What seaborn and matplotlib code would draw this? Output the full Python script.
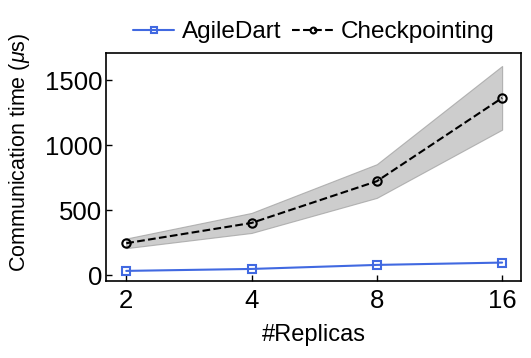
import matplotlib
matplotlib.use("Agg")
import matplotlib.pyplot as plt
import seaborn as sns
import pandas as pd

replicas = ["2", "4", "8", "16"]
agiledart = [33, 48, 79, 97]
checkpointing = [246, 402, 723, 1364]
ckpt_low = [208, 325, 595, 1120]
ckpt_high = [282, 479, 854, 1610]

sns.set_style("ticks")
plt.rcParams['font.family'] = ['Liberation Sans', 'DejaVu Sans']
plt.rcParams['mathtext.fontset'] = 'custom'
plt.rcParams['mathtext.it'] = 'Liberation Sans:italic'
plt.rcParams['text.color'] = 'black'
plt.rcParams['axes.labelcolor'] = 'black'
plt.rcParams['xtick.color'] = 'black'
plt.rcParams['ytick.color'] = 'black'

df = pd.DataFrame({
    "replicas": replicas * 2,
    "time": agiledart + checkpointing,
    "method": ["AgileDart"] * 4 + ["Checkpointing"] * 4,
})

fig = plt.figure(figsize=(5.31, 3.58), dpi=100)
ax = fig.add_axes([0.2, 0.215, 0.781, 0.637])

ax.fill_between(replicas, ckpt_low, ckpt_high, color="#bdbdbd", alpha=0.75,
                edgecolor="#a0a0a0", linewidth=0.8, zorder=1)

sns.lineplot(data=df[df.method == "AgileDart"], x="replicas", y="time", ax=ax,
             color="#4169e1", marker="s", markersize=5.5, markerfacecolor="none",
             markeredgecolor="#4169e1", markeredgewidth=1.5, linewidth=1.5,
             label="AgileDart", zorder=3)
sns.lineplot(data=df[df.method == "Checkpointing"], x="replicas", y="time", ax=ax,
             color="black", marker="o", markersize=6, markerfacecolor="none",
             markeredgecolor="black", markeredgewidth=1.5, linewidth=1.5,
             linestyle="--", label="Checkpointing", zorder=3)

ax.set_xlim(-0.16, 3.15)
ax.set_ylim(-45, 1710)
ax.set_yticks([0, 500, 1000, 1500])
ax.tick_params(direction="in", length=4, width=1, labelsize=18.5, pad=3)
ax.tick_params(axis="x", pad=6)
for s in ax.spines.values():
    s.set_linewidth(1.2)
    s.set_color("black")

ax.set_xlabel("#Replicas", fontsize=17)
ax.set_ylabel(r"Communication time ($\mu$s)", fontsize=15.5)
ax.xaxis.set_label_coords(0.5, -0.19)
ax.yaxis.set_label_coords(-0.178, 0.565)

ax.legend(loc="lower center", bbox_to_anchor=(0.5, 1.0), ncol=2, frameon=False,
          fontsize=17.5, handlelength=1.7, handletextpad=0.3, columnspacing=0.45,
          markerscale=0.7, borderaxespad=0)

fig.savefig("out.png", dpi=100)
